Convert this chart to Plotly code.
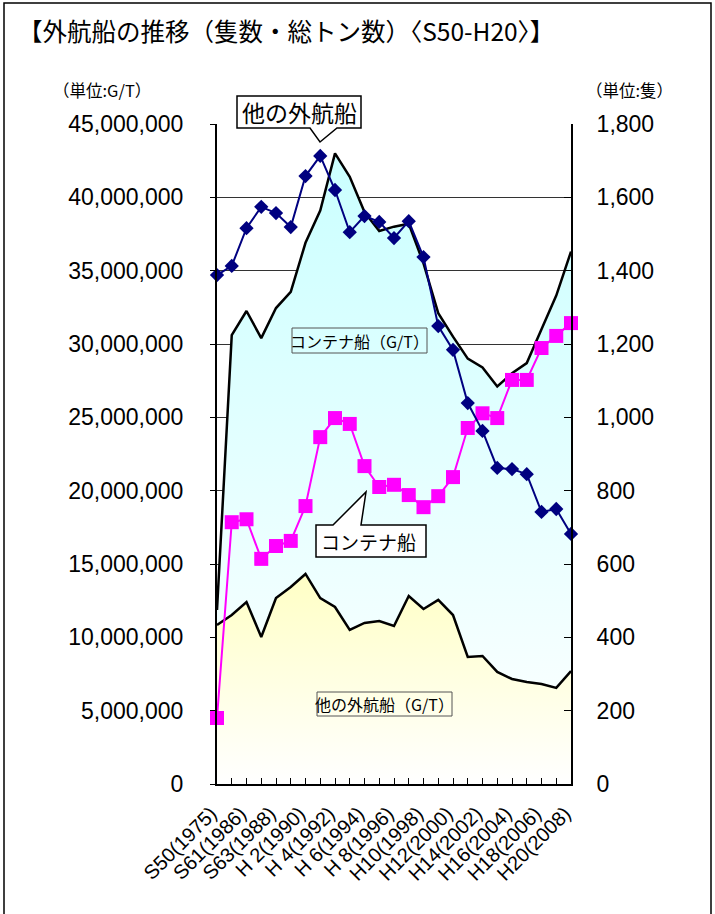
import plotly.graph_objects as go

# ---------------- data ----------------
categories = ["S50(1975)", "S60(1985)", "S61(1986)", "S62(1987)", "S63(1988)",
              "H 1(1989)", "H 2(1990)", "H 3(1991)", "H 4(1992)", "H 5(1993)",
              "H 6(1994)", "H 7(1995)", "H 8(1996)", "H 9(1997)", "H10(1998)",
              "H11(1999)", "H12(2000)", "H13(2001)", "H14(2002)", "H15(2003)",
              "H16(2004)", "H17(2005)", "H18(2006)", "H19(2007)", "H20(2008)"]

# gross tonnage (G/T), left axis
container_gt = [11860000, 30600000, 32250000, 30400000, 32450000, 33550000, 36900000,
                39100000, 43000000, 41400000, 39000000, 37700000, 38000000, 38200000,
                35500000, 32100000, 30500000, 29000000, 28400000, 27100000, 28000000,
                28700000, 31000000, 33300000, 36300000]
other_gt = [10840000, 11520000, 12410000, 10020000, 12680000, 13430000, 14320000,
            12680000, 12070000, 10500000, 10980000, 11110000, 10770000, 12820000,
            11930000, 12550000, 11520000, 8660000, 8730000, 7640000, 7160000,
            6950000, 6820000, 6550000, 7700000]

# number of ships, right axis
other_ships = [1388, 1413, 1516, 1574, 1557, 1519, 1658, 1713, 1620, 1505, 1549, 1533,
               1489, 1535, 1437, 1249, 1184, 1039, 963, 862, 859, 845, 742, 750, 682]
container_ships = [180, 714, 722, 614, 649, 663, 758, 946, 998, 982, 867, 810, 816,
                   788, 755, 785, 837, 971, 1011, 998, 1102, 1102, 1189, 1222, 1257]

tick_labels = [c if i % 2 == 0 else "" for i, c in enumerate(categories)]
idx = list(range(len(categories)))

# ---------------- geometry helpers (pixel -> paper) ----------------
W, H = 715, 914
L, R, T, B = 217, 571, 124, 784


def px(x):
    return (x - L) / (R - L)


def py(y):
    return (B - y) / (B - T)


NUM_FONT = "Liberation Sans, Arial, Noto Sans CJK JP"
JP_FONT = "Noto Sans CJK JP, Noto Sans CJK SC, sans-serif"

fig = go.Figure()

fig.add_trace(go.Scatter(
    x=idx, y=container_gt, mode="lines", name="コンテナ船(G/T)",
    line=dict(color="black", width=2.5),
    fill="tozeroy",
    fillgradient=dict(type="vertical", colorscale=[[0, "#FFFFFF"], [1, "#C8FFFF"]],
                      start=0, stop=45000000),
    hoverinfo="skip",
))
fig.add_trace(go.Scatter(
    x=idx, y=other_gt, mode="lines", name="他の外航船(G/T)",
    line=dict(color="black", width=2.5),
    fill="tozeroy",
    fillgradient=dict(type="vertical", colorscale=[[0, "#FFFFFF"], [1, "#FFFFC4"]],
                      start=0, stop=14500000),
    hoverinfo="skip",
))
fig.add_trace(go.Scatter(
    x=idx, y=container_ships, yaxis="y2", mode="lines+markers", name="コンテナ船",
    line=dict(color="#FF00FF", width=2),
    marker=dict(symbol="square", size=14, color="#FF00FF"),
    cliponaxis=False,
))
fig.add_trace(go.Scatter(
    x=idx, y=other_ships, yaxis="y2", mode="lines+markers", name="他の外航船",
    line=dict(color="#000080", width=2),
    marker=dict(symbol="diamond", size=11, color="#000080"),
    cliponaxis=False,
))

shapes = []
annotations = []


def label(x, y, text, size, xanchor="center"):
    annotations.append(dict(xref="paper", yref="paper", x=px(x), y=py(y),
                            xanchor=xanchor, yanchor="middle", text=text,
                            showarrow=False,
                            font=dict(family=JP_FONT, size=size, color="black")))


# outer frame
shapes.append(dict(type="rect", xref="paper", yref="paper",
                   x0=px(4), x1=px(711), y0=py(3), y1=py(960),
                   line=dict(color="black", width=1.5), fillcolor="rgba(0,0,0,0)", layer="above"))

# callout: 他の外航船
path1 = (f"M {px(237)},{py(96)} L {px(361)},{py(96)} L {px(361)},{py(128)} "
         f"L {px(337)},{py(128)} L {px(320)},{py(142)} L {px(310)},{py(128)} "
         f"L {px(237)},{py(128)} Z")
shapes.append(dict(type="path", xref="paper", yref="paper", path=path1,
                   fillcolor="white", line=dict(color="black", width=1.5), layer="above"))
label(299, 112, "他の外航船", 23)

# callout: コンテナ船
path2 = (f"M {px(316)},{py(525)} L {px(333)},{py(525)} L {px(366)},{py(492)} "
         f"L {px(361)},{py(525)} L {px(426)},{py(525)} L {px(426)},{py(557)} "
         f"L {px(316)},{py(557)} Z")
shapes.append(dict(type="path", xref="paper", yref="paper", path=path2,
                   fillcolor="white", line=dict(color="black", width=1.5), layer="above"))
label(368, 541, "コンテナ船", 19)

# area labels
shapes.append(dict(type="rect", xref="paper", yref="paper",
                   x0=px(292), x1=px(427), y0=py(353), y1=py(328),
                   line=dict(color="#555555", width=1), fillcolor="rgba(0,0,0,0)", layer="above"))
label(359.5, 340.5, "コンテナ船（G/T）", 16)
shapes.append(dict(type="rect", xref="paper", yref="paper",
                   x0=px(317), x1=px(452), y0=py(716), y1=py(692),
                   line=dict(color="#555555", width=1), fillcolor="rgba(0,0,0,0)", layer="above"))
label(384.5, 704, "他の外航船（G/T）", 16)

# title and unit labels
label(16, 30, "【外航船の推移（隻数・総トン数）〈S50-H20〉】", 24.5, xanchor="left")
label(51, 90, "（単位:G/T）", 16.5, xanchor="left")
label(584, 90, "（単位:隻）", 16.5, xanchor="left")

fig.update_layout(
    width=W, height=H, autosize=False,
    margin=dict(l=L, r=W - R, t=T, b=H - B, pad=0),
    paper_bgcolor="white", plot_bgcolor="white",
    showlegend=False,
    hovermode=False,
    font=dict(family=NUM_FONT, color="black"),
    xaxis=dict(
        range=[0, len(categories) - 1], tickmode="array", tickvals=idx, ticktext=tick_labels,
        tickangle=-45, ticks="inside", ticklen=6, tickcolor="black", tickwidth=1,
        showline=True, linecolor="black", linewidth=2, showgrid=False, zeroline=False,
        tickfont=dict(family=NUM_FONT, size=20, color="black"),
        ticklabelstandoff=8, ticklabelshift=-6,
    ),
    yaxis=dict(
        range=[0, 45000000], dtick=5000000, tickformat=",", ticks="outside", ticklen=5,
        tickcolor="black", showline=True, linecolor="black", linewidth=2,
        showgrid=True, gridcolor="#333333", gridwidth=1, zeroline=False,
        tickfont=dict(family=NUM_FONT, size=23, color="black"), ticklabelstandoff=22,
    ),
    yaxis2=dict(
        overlaying="y", side="right", range=[0, 1800], dtick=200, tickformat=",",
        ticks="inside", ticklen=7, tickcolor="black", showline=True, linecolor="black",
        linewidth=2, showgrid=False, zeroline=False,
        tickfont=dict(family=NUM_FONT, size=23, color="black"), ticklabelstandoff=19,
    ),
    shapes=shapes,
    annotations=annotations,
)

fig.write_html("out.html", config={"displayModeBar": False},
               post_script="document.body.style.margin='0';document.body.style.padding='0';")
